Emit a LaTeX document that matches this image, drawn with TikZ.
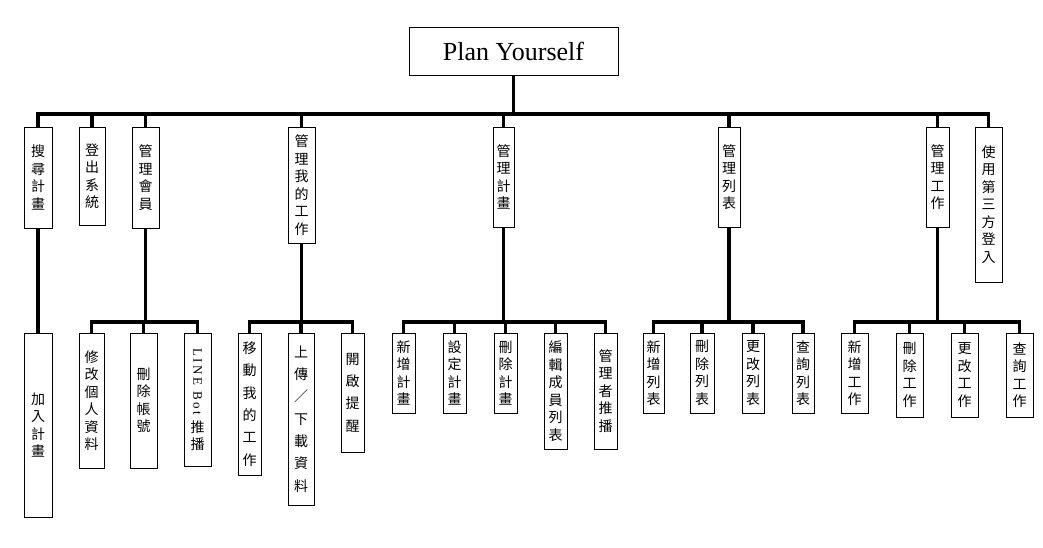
\documentclass[tikz,border=0pt]{standalone}
\usepackage{fontspec}
\setmainfont{Liberation Serif}
\newfontfamily\cjk{Noto Sans CJK TC}
\newfontfamily\latinv[LetterSpace=20]{Liberation Serif}
\tikzset{
  bx/.style={draw, line width=0.9pt, fill=white, inner sep=0pt, align=center,
    font=\cjk\fontsize{14}{17.5}\selectfont},
  wide/.style={font=\cjk\fontsize{14}{22.3}\selectfont},
  rootbox/.style={draw, line width=0.9pt, fill=white, inner sep=0pt,
    font=\fontsize{26}{30}\selectfont},
  bus/.style={line width=3.5pt}
}
\newcommand\vlatin[1]{\rotatebox{-90}{\latinv\fontsize{13}{15}\selectfont #1}}
\begin{document}
\begin{tikzpicture}[x=1pt,y=-1pt]
\useasboundingbox (0,0) rectangle (1043,548);
% root
\node[rootbox, minimum width=209, minimum height=48] (root) at (513.5,51) {Plan Yourself};
% level 1
\node[bx, minimum width=28, minimum height=101] (s1) at (38,177.5) {搜\\尋\\計\\畫};
\node[bx, minimum width=26, minimum height=98] (s2) at (92,176) {登\\出\\系\\統};
\node[bx, minimum width=27, minimum height=101] (s3) at (145.5,177.5) {管\\理\\會\\員};
\node[bx, minimum width=27, minimum height=116] (s4) at (301.5,185) {管\\理\\我\\的\\工\\作};
\node[bx, minimum width=21, minimum height=100] (s5) at (503.5,177) {管\\理\\計\\畫};
\node[bx, minimum width=22, minimum height=100] (s6) at (729,177) {管\\理\\列\\表};
\node[bx, minimum width=23, minimum height=100] (s7) at (937.5,177) {管\\理\\工\\作};
\node[bx, minimum width=27, minimum height=155] (s8) at (988.5,204.5) {使\\用\\第\\三\\方\\登\\入};
% level 2
\node[bx, minimum width=28, minimum height=184] (a1) at (38,425) {加\\入\\計\\畫};
\node[bx, minimum width=25, minimum height=135] (m1) at (91.5,400.5) {修\\改\\個\\人\\資\\料};
\node[bx, minimum width=27, minimum height=135] (m2) at (143.5,400.5) {刪\\除\\帳\\號};
\node[bx, minimum width=27, minimum height=133] (m3) at (197.5,399.5) {\vlatin{LINE Bot}\\[4pt]推\\播};
\node[bx, wide, minimum width=23, minimum height=142] (w1) at (249.5,404) {移\\動\\我\\的\\工\\作};
\node[bx, wide, minimum width=26, minimum height=172] (w2) at (301,419) {上\\傳\\／\\下\\載\\資\\料};
\node[bx, wide, minimum width=23, minimum height=119] (w3) at (352.5,392.5) {開\\啟\\提\\醒};
\node[bx, minimum width=23, minimum height=80] (p1) at (403.5,373) {新\\增\\計\\畫};
\node[bx, minimum width=23, minimum height=80] (p2) at (454.5,373) {設\\定\\計\\畫};
\node[bx, minimum width=23, minimum height=80] (p3) at (505.5,373) {刪\\除\\計\\畫};
\node[bx, minimum width=23, minimum height=116] (p4) at (555.5,391) {編\\輯\\成\\員\\列\\表};
\node[bx, minimum width=23, minimum height=116] (p5) at (605.5,391) {管\\理\\者\\推\\播};
\node[bx, minimum width=21, minimum height=80] (l1) at (653.5,373) {新\\增\\列\\表};
\node[bx, minimum width=24, minimum height=80] (l2) at (702,373) {刪\\除\\列\\表};
\node[bx, minimum width=22, minimum height=80] (l3) at (753,373) {更\\改\\列\\表};
\node[bx, minimum width=22, minimum height=80] (l4) at (803,373) {查\\詢\\列\\表};
\node[bx, minimum width=27, minimum height=80] (t1) at (854.5,373) {新\\增\\工\\作};
\node[bx, minimum width=27, minimum height=84] (t2) at (909.5,375) {刪\\除\\工\\作};
\node[bx, minimum width=27, minimum height=84] (t3) at (964.5,375) {更\\改\\工\\作};
\node[bx, minimum width=27, minimum height=84] (t4) at (1019.5,375) {查\\詢\\工\\作};
% bus levels
\coordinate (bus) at (0,114);
\coordinate (sub) at (0,322);
% top bus
\draw[bus] (root.south) -- (root.south |- bus);
\draw[bus] (s1.north) -- (s1.north |- bus) -- (s8.north |- bus) -- (s8.north);
\foreach \n in {s2,s3,s4,s5,s6,s7} \draw[bus] (\n.north) -- (\n.north |- bus);
% 搜尋計畫 -> 加入計畫
\draw[bus] (s1.south) -- (a1.north);
% sub-trees
\draw[bus] (s3.south) -- (s3.south |- sub);
\draw[bus] (m1.north) -- (m1.north |- sub) -- (m3.north |- sub) -- (m3.north);
\draw[bus] (m2.north) -- (m2.north |- sub);
\draw[bus] (s4.south) -- (s4.south |- sub);
\draw[bus] (w1.north) -- (w1.north |- sub) -- (w3.north |- sub) -- (w3.north);
\draw[bus] (w2.north) -- (w2.north |- sub);
\draw[bus] (s5.south) -- (s5.south |- sub);
\draw[bus] (p1.north) -- (p1.north |- sub) -- (p5.north |- sub) -- (p5.north);
\foreach \n in {p2,p3,p4} \draw[bus] (\n.north) -- (\n.north |- sub);
\draw[bus] (s6.south) -- (s6.south |- sub);
\draw[bus] (l1.north) -- (l1.north |- sub) -- (l4.north |- sub) -- (l4.north);
\foreach \n in {l2,l3} \draw[bus] (\n.north) -- (\n.north |- sub);
\draw[bus] (s7.south) -- (s7.south |- sub);
\draw[bus] (t1.north) -- (t1.north |- sub) -- (t4.north |- sub) -- (t4.north);
\foreach \n in {t2,t3} \draw[bus] (\n.north) -- (\n.north |- sub);
\end{tikzpicture}
\end{document}
